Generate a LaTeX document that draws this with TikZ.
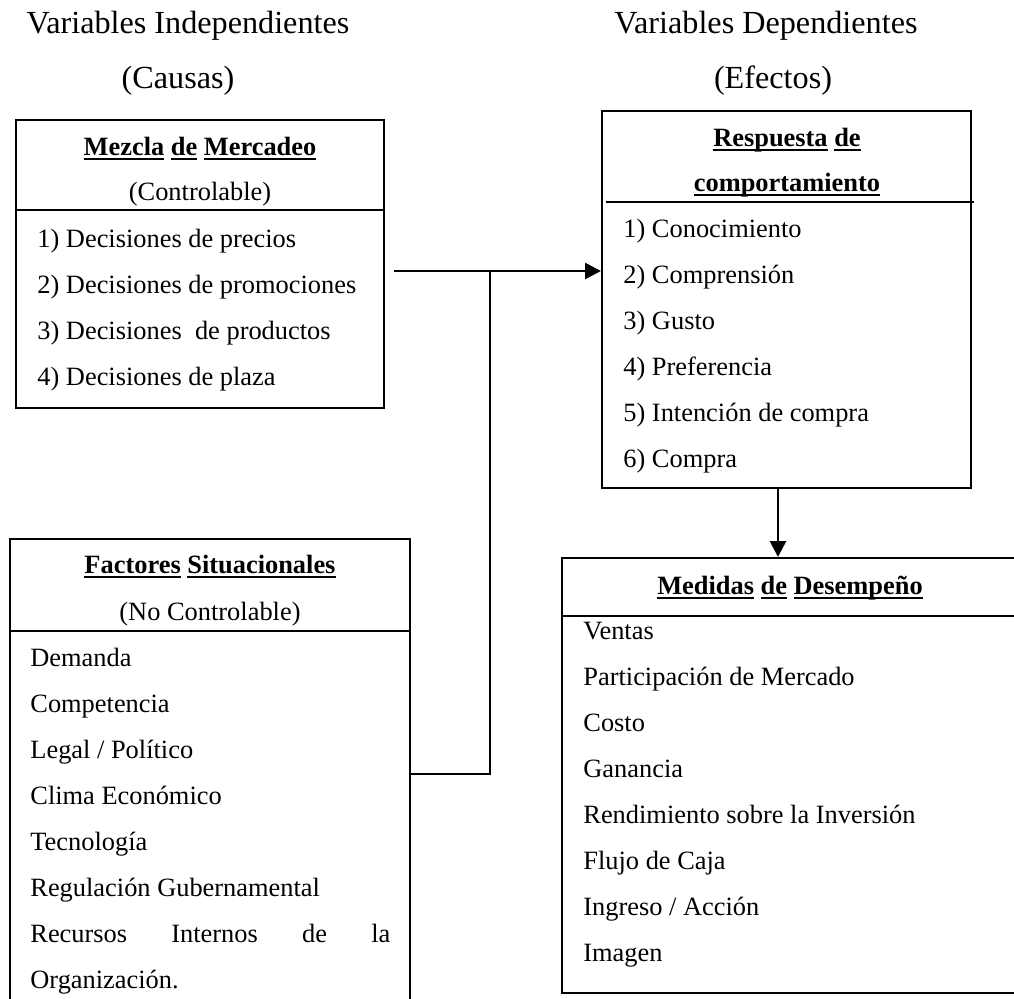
\documentclass[tikz,border=0pt]{standalone}
\usepackage{fontspec}
\setmainfont{Liberation Serif}
\usetikzlibrary{arrows.meta, fit}

\newsavebox\cajatexto
\newcommand{\subr}[1]{\sbox\cajatexto{#1}\usebox\cajatexto\llap{\rule[-2.3pt]{\wd\cajatexto}{1pt}}}

\begin{document}
\begin{tikzpicture}[x=0.5pt, y=-0.5pt, font=\fontsize{13.2}{16}\selectfont,
	caja/.style={draw, line width=1pt, inner sep=0pt},
	item/.style={anchor=base west, inner sep=0pt},
	cabeza/.style={anchor=base, inner sep=0pt},
	titulo/.style={anchor=base, inner sep=0pt, font=\fontsize{16.1}{19}\selectfont},
	flecha/.style={line width=1.4pt, -{Triangle[length=8pt, width=8pt]}},
	linea/.style={line width=1pt}]
	\useasboundingbox (0,0) rectangle (1014,998);
	\node (indep) [titulo] at (188,33) {Variables Independientes};
	\node (causas) [titulo] at (178,88) {(Causas)};
	\node (dep) [titulo] at (766,33) {Variables Dependientes};
	\node (efectos) [titulo] at (773,88) {(Efectos)};

	\node (mezcla) [caja, fit={(16,120) (384,408)}] {};
	\node (mezclaT) [cabeza] at (200,155) {\bfseries\subr{Mezcla} \subr{de} \subr{Mercadeo}};
	\node (mezclaS) [cabeza] at (200,200) {(Controlable)};
	\draw[linea] (mezcla.west |- 0,210) -- (mezcla.east |- 0,210);
	\node (m1) [item] at (37,247) {1) Decisiones de precios};
	\node (m2) [item] at (37,293) {2) Decisiones de promociones};
	\node (m3) [item] at (37,339) {3) Decisiones\ \ de productos};
	\node (m4) [item] at (37,385) {4) Decisiones de plaza};

	\node (respuesta) [caja, fit={(602,111) (971,488)}] {};
	\node (respT) [cabeza] at (787,146) {\bfseries\subr{Respuesta} \subr{de}};
	\node (respS) [cabeza] at (787,191) {\bfseries\subr{comportamiento}};
	\draw[linea] (606,202) -- (974,202);
	\node (r1) [item] at (623,237) {1) Conocimiento};
	\node (r2) [item] at (623,283) {2) Comprensión};
	\node (r3) [item] at (623,329) {3) Gusto};
	\node (r4) [item] at (623,375) {4) Preferencia};
	\node (r5) [item] at (623,421) {5) Intención de compra};
	\node (r6) [item] at (623,467) {6) Compra};

	\node (factores) [caja, fit={(10,539) (410,1008)}] {};
	\node (factT) [cabeza] at (210,573) {\bfseries\subr{Factores} \subr{Situacionales}};
	\node (factS) [cabeza] at (210,620) {(No Controlable)};
	\draw[linea] (factores.west |- 0,631) -- (factores.east |- 0,631);
	\node (f1) [item] at (30,666) {Demanda};
	\node (f2) [item] at (30,712) {Competencia};
	\node (f3) [item] at (30,758) {Legal / Político};
	\node (f4) [item] at (30,804) {Clima Económico};
	\node (f5) [item] at (30,850) {Tecnología};
	\node (f6) [item] at (30,896) {Regulación Gubernamental};
	\node (f7) [item] at (30,942) {\makebox[180pt][s]{Recursos Internos de la}};
	\node (f8) [item] at (30,988) {Organización.};

	\node (medidas) [caja, fit={(562,558) (1020,993)}] {};
	\node (medT) [cabeza] at (790,594) {\bfseries\subr{Medidas} \subr{de} \subr{Desempeño}};
	\draw[linea] (medidas.west |- 0,616) -- (medidas.east |- 0,616);
	\node (d1) [item] at (583,639) {Ventas};
	\node (d2) [item] at (583,685) {Participación de Mercado};
	\node (d3) [item] at (583,731) {Costo};
	\node (d4) [item] at (583,777) {Ganancia};
	\node (d5) [item] at (583,823) {Rendimiento sobre la Inversión};
	\node (d6) [item] at (583,869) {Flujo de Caja};
	\node (d7) [item] at (583,915) {Ingreso / Acción};
	\node (d8) [item] at (583,961) {Imagen};

	\coordinate (inicio) at (394,271);
	\coordinate (cruce) at (490,271);
	\coordinate (codo) at (490,774);
	\coordinate (baja) at (778,488);
	\draw[flecha] (inicio) -- (cruce -| respuesta.west);
	\draw[linea] (cruce) -- (codo) -- (codo -| factores.east);
	\draw[flecha] (baja) -- (baja |- medidas.north);
\end{tikzpicture}
\end{document}
